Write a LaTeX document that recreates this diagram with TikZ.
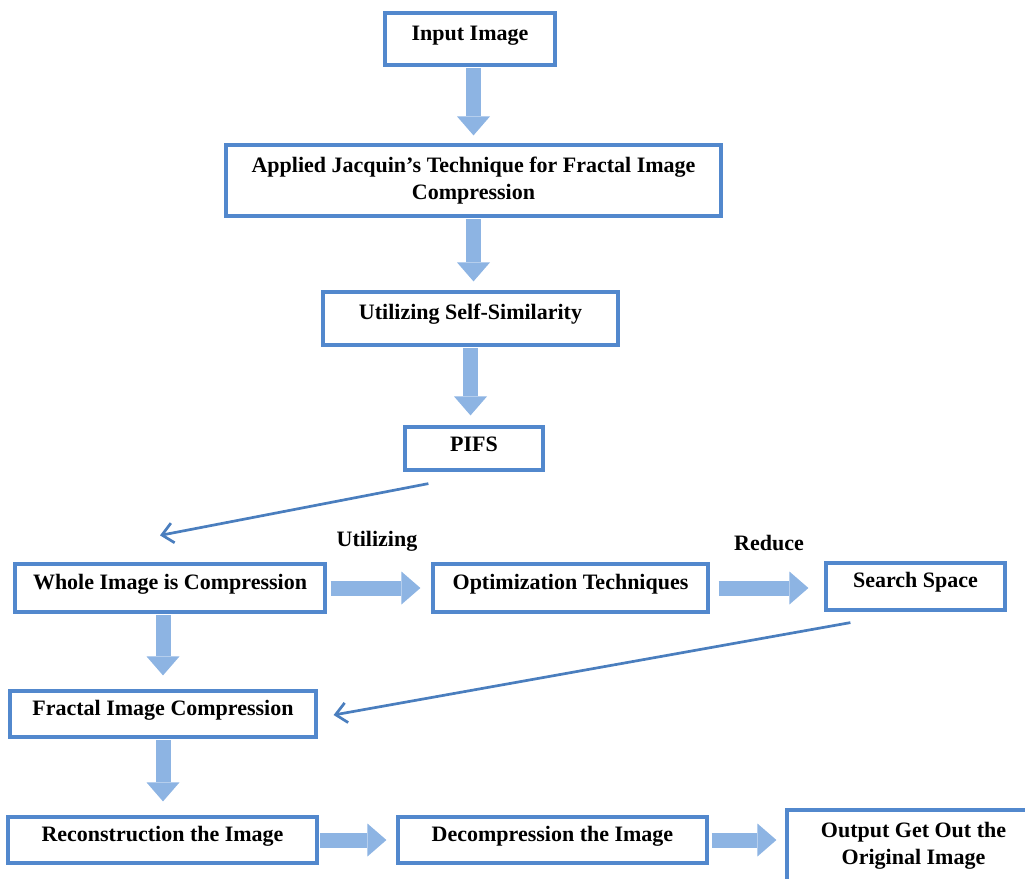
\documentclass[tikz,border=0pt]{standalone}
\usepackage{fontspec}
\setmainfont{Liberation Serif}
\usetikzlibrary{arrows.meta,calc}
\definecolor{bblue}{RGB}{82,136,205}
\definecolor{afill}{RGB}{141,180,227}
\definecolor{lblue}{RGB}{74,126,190}
\begin{document}
\begin{tikzpicture}[x=1pt,y=-1pt,
  box/.style={draw=bblue,line width=3.2pt,fill=white,inner sep=0pt,
    font=\fontsize{22}{27}\selectfont\bfseries,align=center},
  one/.style={text height=15pt,text depth=13pt},
  barrow/.style={draw=afill,line width=15pt,-{Triangle[width=33pt,length=19pt,line width=0pt]}},
  link/.style={draw=lblue,line width=2.7pt,-{Straight Barb[length=11pt,width=20pt]}},
  lbl/.style={font=\fontsize{22}{27}\selectfont\bfseries}]
\useasboundingbox (0,0) rectangle (1025,878);
% boxes
\node[box,one,minimum width=170pt,minimum height=52pt] (in) at (470,39) {Input Image};
\node[box,minimum width=495pt,minimum height=71pt] (app) at (473.5,180.5) {Applied Jacquin’s Technique for Fractal Image\\Compression};
\node[box,one,minimum width=295pt,minimum height=53pt] (ss) at (470.5,318.5) {Utilizing Self-Similarity};
\node[box,text height=15pt,text depth=9pt,minimum width=138pt,minimum height=43pt] (pifs) at (474,448.5) {PIFS};
\node[box,one,minimum width=310pt,minimum height=48pt] (wh) at (170,588) {Whole Image is Compression};
\node[box,one,minimum width=275pt,minimum height=48pt] (op) at (570.5,588) {Optimization Techniques};
\node[box,one,minimum width=179pt,minimum height=47pt] (ssp) at (915.5,586.5) {Search Space};
\node[box,one,minimum width=306pt,minimum height=46pt] (fr) at (163,714) {Fractal Image Compression};
\node[box,one,minimum width=309pt,minimum height=46pt] (rc) at (162.5,840) {Reconstruction the Image};
\node[box,one,minimum width=309pt,minimum height=46pt] (dc) at (552.5,840) {Decompression the Image};
\node[box,minimum width=253pt,minimum height=72pt] (out) at (913.5,846) {Output Get Out the\\Original Image};
% block arrows
\draw[barrow] ([yshift=-1.5pt]app.north |- in.south) -- ([yshift=8pt]app.north);
\draw[barrow] ([yshift=-1.5pt]app.south) -- ([yshift=9pt]app.south |- ss.north);
\draw[barrow] ([yshift=-1.5pt]ss.south) -- ([yshift=10pt]ss.south |- pifs.north);
\draw[barrow] ([yshift=-1.5pt]fr.north |- wh.south) -- ([yshift=14pt]fr.north);
\draw[barrow] ([yshift=-1.5pt]fr.south) -- ([yshift=14pt]fr.south |- rc.north);
\draw[barrow] ([xshift=4pt]wh.east) -- ([xshift=-11pt]op.west |- wh.east);
\draw[barrow] ([xshift=9pt]op.east) -- ([xshift=-16pt]ssp.west |- op.east);
\draw[barrow] ([xshift=1.5pt]rc.east) -- ([xshift=-10pt]dc.west |- rc.east);
\draw[barrow] ([xshift=3pt]dc.east) -- ([xshift=-9pt]out.west |- dc.east);
% thin arrows
\coordinate (p1) at ([xshift=25pt,yshift=-12pt]pifs.south west);
\coordinate (p2) at ([xshift=-10pt,yshift=27pt]wh.north);
\draw[link] (p1) -- (p2);
\coordinate (s1) at ([xshift=26pt,yshift=-11pt]ssp.south west);
\coordinate (s2) at ([xshift=16pt,yshift=-1pt]fr.east);
\draw[link] (s1) -- (s2);
% labels
\node[lbl] (u) at (377,541) {Utilizing};
\node[lbl] (r) at (769,543) {Reduce};
\end{tikzpicture}
\end{document}
